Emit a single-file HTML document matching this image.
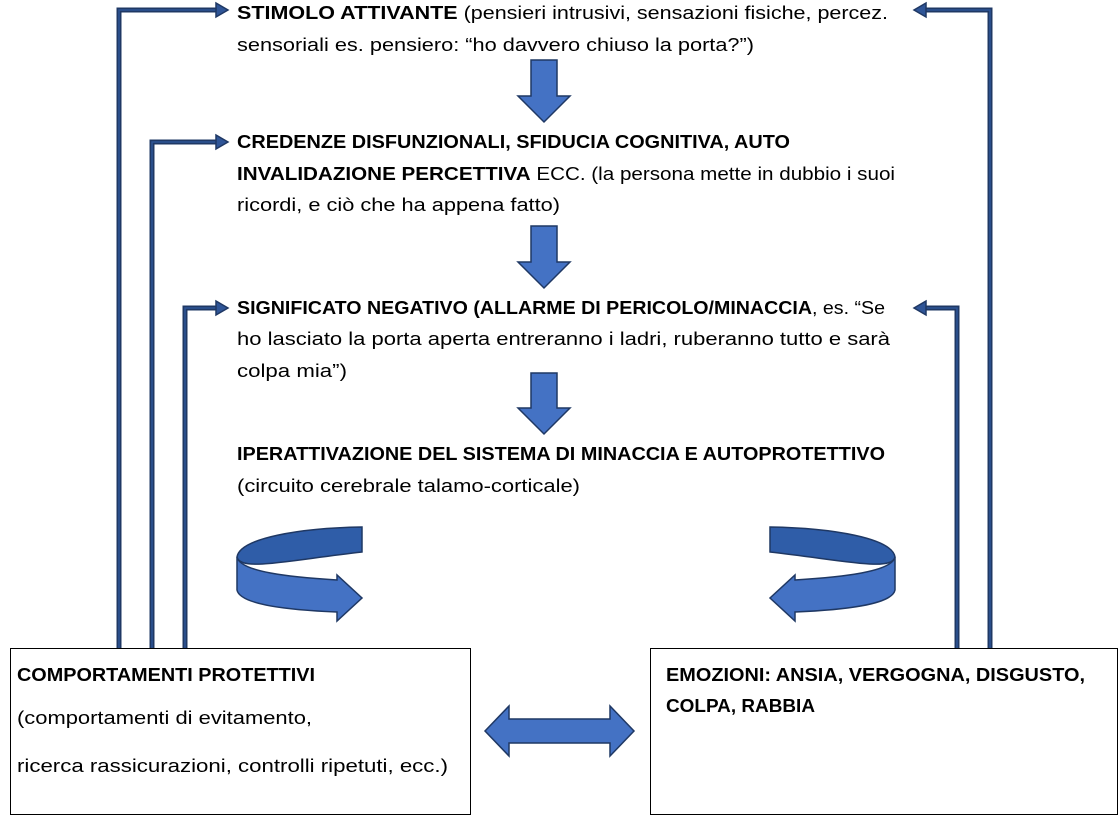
<!DOCTYPE html>
<html><head><meta charset="utf-8"><style>
html,body{margin:0;padding:0;background:#fff;}
svg{display:block;}
text{font-family:"Liberation Sans",sans-serif;font-size:18px;fill:#000;}
.b{font-weight:bold;}
</style></head><body>
<svg width="1120" height="816" viewBox="0 0 1120 816" xmlns="http://www.w3.org/2000/svg">
<defs>
<marker id="ah" markerWidth="6" markerHeight="6" refX="3" refY="3" orient="auto" markerUnits="userSpaceOnUse" viewBox="0 0 6 6"></marker>
</defs>
<g fill="none" stroke-linejoin="miter">
<g stroke="#1f3864" stroke-width="5">
<polyline points="119,648 119,10 218,10"/>
<polyline points="152,648 152,142 218,142"/>
<polyline points="185,648 185,308 218,308"/>
<polyline points="990,648 990,10 925,10"/>
<polyline points="957,648 957,308 925,308"/>
</g>
<g stroke="#2f5597" stroke-width="1.5">
<polyline points="119,648 119,10 218,10"/>
<polyline points="152,648 152,142 218,142"/>
<polyline points="185,648 185,308 218,308"/>
<polyline points="990,648 990,10 925,10"/>
<polyline points="957,648 957,308 925,308"/>
</g>
</g>
<g fill="#2f5597" stroke="#1f3864" stroke-width="1.5">
<polygon points="216,3 228,10 216,17"/>
<polygon points="216,135 228,142 216,149"/>
<polygon points="216,301 228,308 216,315"/>
<polygon points="926,3 914,10 926,17"/>
<polygon points="926,301 914,308 926,315"/>
</g>
<g fill="#4472c4" stroke="#1f3864" stroke-width="1.5">
<polygon points="531,60 557,60 557,96 570,96 544,122 518,96 531,96"/>
<polygon points="531,226 557,226 557,262 570,262 544,288 518,262 531,262"/>
<polygon points="531,373 557,373 557,408 570,408 544,434 518,408 531,408"/>
<polygon points="485,731 509,706 509,719 610,719 610,706 634,731 610,756 610,743 509,743 509,756"/>
<!-- left curl -->
<path d="M362,527 C300,528 240,538 237,557 C240,572 290,560 362,552 Z" fill="#2f5da8"/>
<path d="M237,557 C240,572 290,577 337,580 L337,575 L362,598 L337,621 L337,612 C290,610 240,605 237,590 Z"/>
<!-- right curl -->
<path d="M770,527 C832,528 892,538 895,557 C892,572 842,560 770,552 Z" fill="#2f5da8"/>
<path d="M895,557 C892,572 842,577 795,580 L795,575 L770,598 L795,621 L795,612 C842,610 892,605 895,590 Z"/>
</g>
<rect x="10.5" y="648.5" width="460" height="166" fill="#fff" stroke="#000" stroke-width="1"/>
<rect x="650.5" y="648.5" width="467" height="166" fill="#fff" stroke="#000" stroke-width="1"/>

<text x="237" y="19" textLength="651" lengthAdjust="spacingAndGlyphs"><tspan class="b">STIMOLO ATTIVANTE</tspan> (pensieri intrusivi, sensazioni fisiche, percez.</text>
<text x="237" y="51" textLength="517" lengthAdjust="spacingAndGlyphs">sensoriali es. pensiero: “ho davvero chiuso la porta?”)</text>
<text x="237" y="148" textLength="553" lengthAdjust="spacingAndGlyphs" class="b">CREDENZE DISFUNZIONALI, SFIDUCIA COGNITIVA, AUTO</text>
<text x="237" y="180" textLength="658" lengthAdjust="spacingAndGlyphs"><tspan class="b">INVALIDAZIONE PERCETTIVA</tspan> ECC. (la persona mette in dubbio i suoi</text>
<text x="237" y="211" textLength="323" lengthAdjust="spacingAndGlyphs">ricordi, e ciò che ha appena fatto)</text>
<text x="237" y="314" textLength="648" lengthAdjust="spacingAndGlyphs"><tspan class="b">SIGNIFICATO NEGATIVO (ALLARME DI PERICOLO/MINACCIA</tspan>, es. “Se</text>
<text x="237" y="345" textLength="653" lengthAdjust="spacingAndGlyphs">ho lasciato la porta aperta entreranno i ladri, ruberanno tutto e sarà</text>
<text x="237" y="377" textLength="110" lengthAdjust="spacingAndGlyphs">colpa mia”)</text>
<text x="237" y="460" textLength="648" lengthAdjust="spacingAndGlyphs" class="b">IPERATTIVAZIONE DEL SISTEMA DI MINACCIA E AUTOPROTETTIVO</text>
<text x="237" y="492" textLength="343" lengthAdjust="spacingAndGlyphs">(circuito cerebrale talamo-corticale)</text>
<text x="17" y="681" textLength="298" lengthAdjust="spacingAndGlyphs" class="b">COMPORTAMENTI PROTETTIVI</text>
<text x="17" y="724" textLength="295" lengthAdjust="spacingAndGlyphs">(comportamenti di evitamento,</text>
<text x="17" y="772" textLength="431" lengthAdjust="spacingAndGlyphs">ricerca rassicurazioni, controlli ripetuti, ecc.)</text>
<text x="666" y="681" textLength="419" lengthAdjust="spacingAndGlyphs" class="b">EMOZIONI: ANSIA, VERGOGNA, DISGUSTO,</text>
<text x="666" y="712" textLength="149" lengthAdjust="spacingAndGlyphs" class="b">COLPA, RABBIA</text>
</svg>
</body></html>
